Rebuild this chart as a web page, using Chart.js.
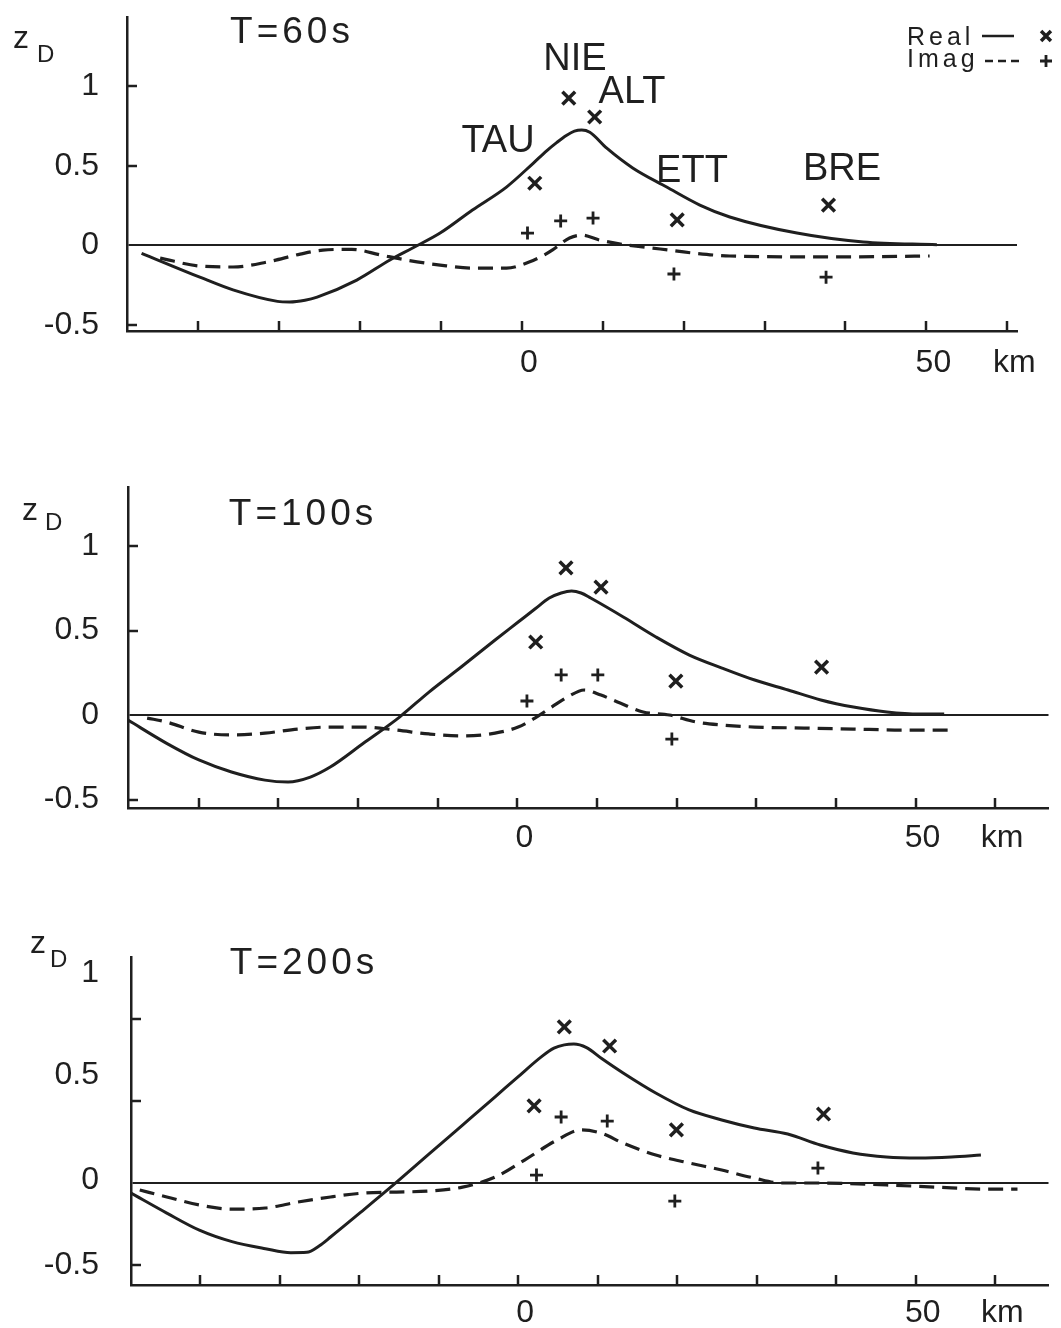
<!DOCTYPE html>
<html><head><meta charset="utf-8">
<script src="https://cdn.jsdelivr.net/npm/chart.js@4.4.1/dist/chart.umd.min.js"></script>
<style>
html,body{margin:0;padding:0;background:#fff;}
#wrap{position:relative;width:1061px;height:1328px;overflow:hidden;background:#fff;}
canvas{position:absolute;left:0;}
</style></head><body><div id="wrap">
<canvas id="c1"></canvas><canvas id="c2"></canvas><canvas id="c3"></canvas>
</div>
<script>
// ---------- DATA ----------
const stations = ['TAU', 'NIE', 'ALT', 'ETT', 'BRE'];
const periods = ['T=60s', 'T=100s', 'T=200s'];
const legendLabels = ['Real', 'Imag'];
const yTickValues = [1, 0.5, 0, -0.5];
const yTickLabels = ['1', '0.5', '0', '-0.5'];
const xTickValues = [-40, -30, -20, -10, 0, 10, 20, 30, 40, 50, 60];
const xTickLabels = { 0: '0', 50: '50', 60: 'km' };

// T = 60 s : model curves [km, zD]
const real60 = [[-47.0,-0.05],[-39.8,-0.20],[-35.7,-0.28],[-30.2,-0.352],[-28.7,-0.356],[-26.8,-0.345],[-25.3,-0.325],[-20.4,-0.218],[-16.3,-0.092],[-13.5,-0.017],[-10.1,0.077],[-6.1,0.222],[-1.9,0.366],[1.4,0.515],[3.1,0.595],[4.3,0.645],[5.5,0.69],[6.5,0.717],[7.4,0.724],[8.4,0.71],[10.5,0.61],[13.7,0.486],[17.9,0.366],[22.0,0.253],[25.7,0.178],[34.0,0.077],[42.2,0.021],[51.3,0.004]];
const imag60 = [[-44.7,-0.08],[-39.8,-0.13],[-35.7,-0.136],[-31.5,-0.105],[-27.4,-0.055],[-24.6,-0.03],[-21.0,-0.025],[-17.5,-0.06],[-14.3,-0.092],[-10.1,-0.124],[-6.1,-0.143],[-1.9,-0.143],[0.9,-0.105],[2.8,-0.06],[3.8,-0.029],[5.9,0.046],[7.4,0.064],[9.6,0.033],[13.0,0.002],[17.1,-0.023],[21.1,-0.048],[25.7,-0.067],[38.1,-0.073],[50.4,-0.067]];
// T = 60 s : station values (TAU, NIE, ALT, ETT, BRE)
const realStaX60 = [1.6, 5.8, 9.0, 19.2, 37.9];
const realSta60  = [0.39, 0.925, 0.806, 0.16, 0.253];
const imagStaX60 = [0.7, 4.8, 8.8, 18.8, 37.6];
const imagSta60  = [0.077, 0.153, 0.171, -0.18, -0.20];

// T = 100 s
const real100 = [[-48.9,-0.03],[-44.1,-0.166],[-40.0,-0.266],[-35.9,-0.337],[-31.7,-0.385],[-28.8,-0.396],[-26.0,-0.367],[-23.5,-0.308],[-19.3,-0.166],[-14.8,-0.012],[-11.1,0.136],[-6.9,0.29],[-2.8,0.444],[0.1,0.55],[2.2,0.627],[4.0,0.692],[5.5,0.722],[6.8,0.734],[8.0,0.722],[9.2,0.692],[13.3,0.58],[17.4,0.462],[21.6,0.355],[25.7,0.278],[29.8,0.207],[34.0,0.148],[38.1,0.089],[42.2,0.047],[46.4,0.018],[50.5,0.006],[53.6,0.006]];
const imag100 = [[-46.5,-0.018],[-44.1,-0.041],[-40.0,-0.101],[-35.9,-0.118],[-31.7,-0.107],[-27.6,-0.083],[-23.5,-0.071],[-19.3,-0.071],[-15.2,-0.089],[-11.1,-0.112],[-6.9,-0.124],[-2.8,-0.107],[0.1,-0.071],[2.2,-0.018],[4.3,0.047],[6.3,0.107],[8.4,0.148],[10.5,0.118],[12.9,0.071],[15.8,0.018],[19.1,0.0],[22.4,-0.041],[25.7,-0.059],[29.8,-0.071],[36.0,-0.077],[42.2,-0.083],[48.4,-0.089],[54.2,-0.089]];
const realStaX100 = [2.3, 6.1, 10.5, 19.9, 38.2];
const realSta100  = [0.432, 0.87, 0.757, 0.201, 0.284];
const imagStaX100 = [1.2, 5.5, 10.1, 19.4, null];
const imagSta100  = [0.083, 0.237, 0.237, -0.142, null];

// T = 200 s
const real200 = [[-48.7,-0.059],[-44.2,-0.181],[-40.1,-0.285],[-36.0,-0.355],[-31.8,-0.398],[-28.6,-0.422],[-26.6,-0.42],[-25.0,-0.38],[-23.6,-0.327],[-19.4,-0.16],[-15.7,-0.01],[-11.2,0.179],[-7.0,0.355],[-2.9,0.527],[-0.1,0.645],[2.9,0.77],[4.5,0.823],[5.8,0.843],[7.0,0.848],[8.6,0.826],[10.5,0.76],[13.2,0.672],[17.3,0.55],[21.5,0.447],[25.6,0.386],[29.7,0.337],[33.9,0.30],[38.0,0.233],[42.1,0.185],[46.3,0.16],[50.4,0.154],[54.5,0.16],[58.2,0.172]];
const imag200 = [[-47.6,-0.041],[-44.2,-0.083],[-40.1,-0.132],[-36.0,-0.157],[-31.8,-0.15],[-27.7,-0.114],[-23.6,-0.083],[-19.4,-0.059],[-15.3,-0.053],[-11.2,-0.047],[-7.0,-0.023],[-2.9,0.038],[0.8,0.142],[4.9,0.264],[7.9,0.325],[10.4,0.306],[13.2,0.245],[17.3,0.172],[21.5,0.124],[25.6,0.081],[29.7,0.032],[33.1,0.002],[38.0,0.002],[46.3,-0.01],[52.5,-0.023],[58.7,-0.035],[62.8,-0.035]];
const realStaX200 = [2.0, 5.8, 11.5, 19.9, 38.4];
const realSta200  = [0.471, 0.952, 0.836, 0.325, 0.422];
const imagStaX200 = [2.3, 5.4, 11.2, 19.7, 37.7];
const imagSta200  = [0.05, 0.404, 0.379, -0.108, 0.093];

// ---------- STYLE / LAYOUT ----------
const INK = '#1f1f1f';
const FONT = '"Liberation Sans", Arial, sans-serif';
const W = 1061;

const panels = [
  { id:'c1', top:0,   H:400, areaLeft:127, areaTop:17, areaRight:1017, areaBottom:331,
    xMin:-48.8, xMax:61.2, yMin:-0.538, yMax:1.434, xLabelPad:13, yLabelShift:[0,0,0,0],
    title:{x:292,y:33}, zd:{x:13,y:48,dx:24,dy:14},
    curves:[real60, imag60], sta:[realStaX60, realSta60, imagStaX60, imagSta60] },
  { id:'c2', top:440, H:440, areaLeft:128, areaTop:47, areaRight:1061, areaBottom:368,
    xMin:-48.9, xMax:66.7, yMin:-0.550, yMax:1.349, xLabelPad:11, yLabelShift:[0,0,0,0],
    title:{x:303,y:75}, zd:{x:22,y:80,dx:23,dy:10},
    curves:[real100, imag100], sta:[realStaX100, realSta100, imagStaX100, imagSta100] },
  { id:'c3', top:920, H:408, areaLeft:131, areaTop:37, areaRight:1061, areaBottom:365,
    xMin:-48.7, xMax:66.7, yMin:-0.619, yMax:1.378, xLabelPad:9, yLabelShift:[-46,-26,-3,0],
    title:{x:304,y:44}, zd:{x:30,y:33,dx:20,dy:14},
    curves:[real200, imag200], sta:[realStaX200, realSta200, imagStaX200, imagSta200] }
];
const stationLabelPos = [[498,152],[575,70],[632,103],[692,182],[842,180]];
const legendPos = { textX:907, rows:[45,67], lineY:[36,61], lineX:[982,1022], markX:1046 };

function toPts(arr) { return arr.map(([x, y]) => ({ x, y })); }
function staPts(xs, ys) {
  const out = [];
  xs.forEach((x, i) => { if (x !== null && ys[i] !== null) out.push({ x, y: ys[i] }); });
  return out;
}

function makeDecor(P, idx) {
  return {
    id: 'decor' + idx,
    afterDraw(chart) {
      const ctx = chart.ctx, xs = chart.scales.x, ys = chart.scales.y, a = chart.chartArea;
      ctx.save();
      ctx.strokeStyle = INK; ctx.fillStyle = INK; ctx.lineWidth = 2.5; ctx.setLineDash([]);
      // inward tick marks
      xTickValues.forEach(v => {
        const px = Math.round(xs.getPixelForValue(v));
        ctx.beginPath(); ctx.moveTo(px, a.bottom); ctx.lineTo(px, a.bottom - 10); ctx.stroke();
      });
      yTickValues.forEach(v => {
        if (v === 0) return;
        const py = Math.round(ys.getPixelForValue(v));
        ctx.beginPath(); ctx.moveTo(a.left, py); ctx.lineTo(a.left + 10, py); ctx.stroke();
      });
      // y tick labels
      ctx.font = '32px ' + FONT; ctx.textAlign = 'right'; ctx.textBaseline = 'middle';
      yTickValues.forEach((v, i) => ctx.fillText(yTickLabels[i], 99, ys.getPixelForValue(v) + P.yLabelShift[i]));
      // z_D
      ctx.textAlign = 'left'; ctx.textBaseline = 'alphabetic';
      ctx.font = '32px ' + FONT; ctx.fillText('z', P.zd.x, P.zd.y);
      ctx.font = '24px ' + FONT; ctx.fillText('D', P.zd.x + P.zd.dx, P.zd.y + P.zd.dy);
      // title
      ctx.font = '37px ' + FONT; ctx.textAlign = 'center'; ctx.textBaseline = 'middle';
      ctx.letterSpacing = '4px';
      ctx.fillText(periods[idx], P.title.x, P.title.y);
      ctx.letterSpacing = '0px';
      if (idx === 0) {
        // station names
        ctx.font = '38px ' + FONT; ctx.textAlign = 'center'; ctx.textBaseline = 'alphabetic';
        stations.forEach((s, i) => ctx.fillText(s, stationLabelPos[i][0], stationLabelPos[i][1]));
        // legend
        ctx.font = '25px ' + FONT; ctx.textAlign = 'left'; ctx.letterSpacing = '4px';
        legendLabels.forEach((l, i) => ctx.fillText(l, legendPos.textX, legendPos.rows[i]));
        ctx.letterSpacing = '0px';
        ctx.lineWidth = 2.5;
        ctx.beginPath(); ctx.moveTo(legendPos.lineX[0], legendPos.lineY[0]); ctx.lineTo(legendPos.lineX[1] - 8, legendPos.lineY[0]); ctx.stroke();
        ctx.setLineDash([8, 5]);
        ctx.beginPath(); ctx.moveTo(legendPos.lineX[0] + 3, legendPos.lineY[1]); ctx.lineTo(legendPos.lineX[1], legendPos.lineY[1]); ctx.stroke();
        ctx.setLineDash([]);
        ctx.lineWidth = 3.5;
        Chart.helpers.drawPoint(ctx, { pointStyle: 'crossRot', radius: 7, borderWidth: 3.5, rotation: 0 }, legendPos.markX, legendPos.lineY[0]);
        ctx.lineWidth = 2.8;
        Chart.helpers.drawPoint(ctx, { pointStyle: 'cross', radius: 6, borderWidth: 2.8, rotation: 0 }, legendPos.markX, legendPos.lineY[1]);
      }
      ctx.restore();
    }
  };
}

function makeChart(P, idx) {
  const cv = document.getElementById(P.id);
  cv.width = W; cv.height = P.H;
  cv.style.top = P.top + 'px'; cv.style.width = W + 'px'; cv.style.height = P.H + 'px';
  const datasets = [
    { type:'line', data: toPts(P.curves[0]), borderColor: INK, borderWidth: 3, pointRadius: 0,
      cubicInterpolationMode: 'monotone', fill: false, order: 2 },
    { type:'line', data: toPts(P.curves[1]), borderColor: INK, borderWidth: 3.2, borderDash: [15, 8], pointRadius: 0,
      cubicInterpolationMode: 'monotone', fill: false, order: 2 },
    { type:'scatter', data: staPts(P.sta[0], P.sta[1]), pointStyle: 'crossRot', pointRadius: 9,
      borderColor: INK, backgroundColor: INK, borderWidth: 3.5, order: 1 },
    { type:'scatter', data: staPts(P.sta[2], P.sta[3]), pointStyle: 'cross', pointRadius: 6.5,
      borderColor: INK, backgroundColor: INK, borderWidth: 2.8, order: 1 }
  ];
  return new Chart(cv, {
    type: 'scatter',
    data: { datasets },
    options: {
      responsive: false, animation: false, devicePixelRatio: 1,
      layout: { padding: { left: 0, top: P.areaTop, right: W - P.areaRight, bottom: 0 } },
      plugins: { legend: { display: false }, tooltip: { enabled: false } },
      scales: {
        x: {
          type: 'linear', position: 'bottom', min: P.xMin, max: P.xMax,
          afterBuildTicks: s => { s.ticks = xTickValues.map(v => ({ value: v })); },
          afterFit: s => { s.height = P.H - P.areaBottom; s.paddingLeft = 0; s.paddingRight = 0; },
          grid: { color: 'rgba(0,0,0,0)', drawTicks: false },
          border: { display: true, color: INK, width: 2.5 },
          ticks: { autoSkip: false, maxRotation: 0, minRotation: 0, padding: P.xLabelPad, labelOffset: 7,
                   color: INK, font: { family: FONT, size: 32 },
                   callback: v => (xTickLabels[v] !== undefined ? xTickLabels[v] : '') }
        },
        y: {
          type: 'linear', position: 'left', min: P.yMin, max: P.yMax,
          afterBuildTicks: s => { s.ticks = yTickValues.map(v => ({ value: v })); },
          afterFit: s => { s.width = P.areaLeft; s.paddingTop = 0; s.paddingBottom = 0; },
          grid: { drawTicks: false, lineWidth: 2,
                  color: c => (c.tick && c.tick.value === 0 ? INK : 'rgba(0,0,0,0)') },
          border: { display: true, color: INK, width: 2.5 },
          ticks: { display: false }
        }
      }
    },
    plugins: [makeDecor(P, idx)]
  });
}

panels.forEach((P, i) => makeChart(P, i));
</script>
</body></html>
